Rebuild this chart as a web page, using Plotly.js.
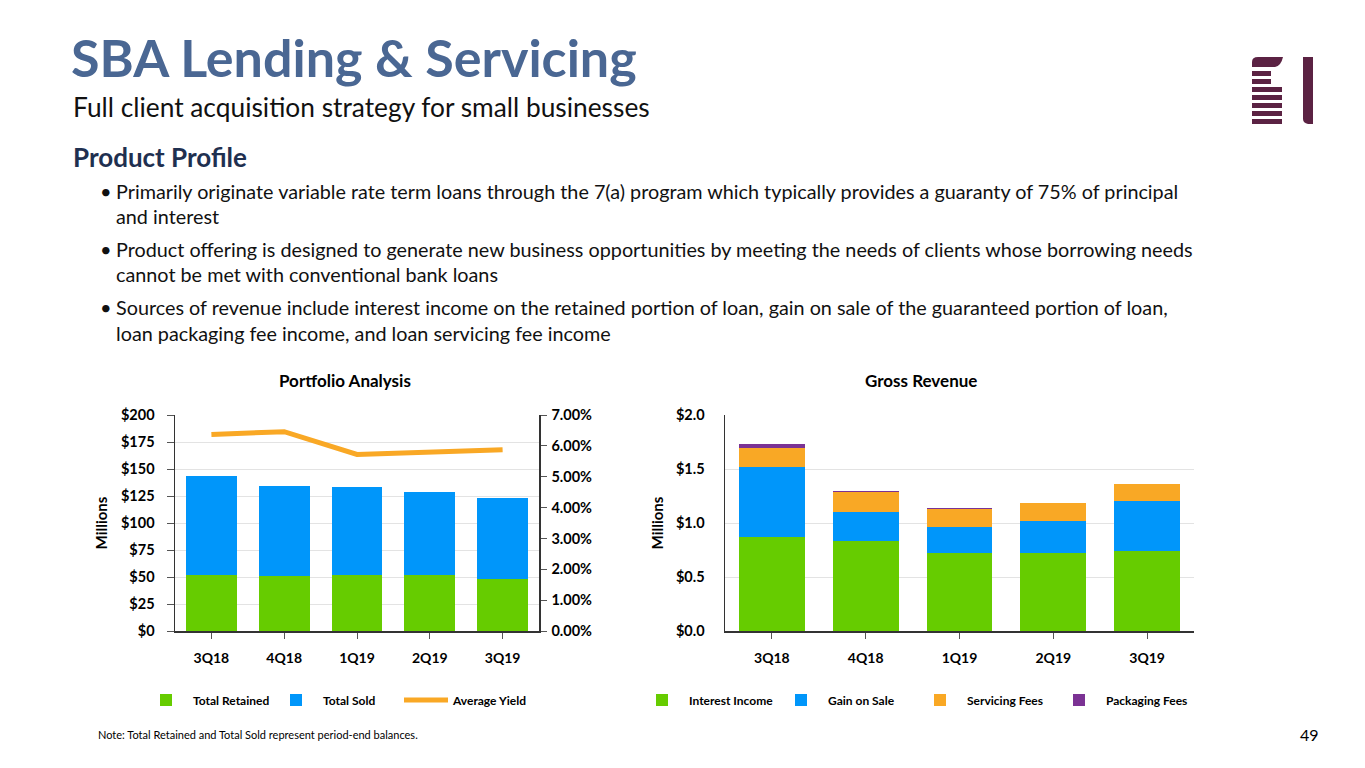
<!DOCTYPE html>
<html><head><meta charset="utf-8">
<script src="https://cdn.plot.ly/plotly-3.0.1.min.js"></script>
<style>html,body{margin:0;padding:0;background:#fff;}#chart{width:1365px;height:768px;}</style>
</head><body><div id="chart"></div>
<script>
// ---- data ----
const quarters = ["3Q18","4Q18","1Q19","2Q19","3Q19"];
const totalRetained = [52, 50.5, 52, 52, 48];
const totalSold = [91.5, 84, 81.5, 76.5, 75.5];
const averageYield = [6.37, 6.46, 5.72, 5.79, 5.87];
const interestIncome = [0.875, 0.835, 0.722, 0.722, 0.744];
const gainOnSale = [0.64, 0.27, 0.242, 0.295, 0.459];
const servicingFees = [0.18, 0.18, 0.165, 0.164, 0.155];
const packagingFees = [0.04, 0.012, 0.006, 0.006, 0.0];
const bullets = [
  ["Primarily originate variable rate term loans through the 7(a) program which typically provides a guaranty of 75% of principal", "and interest"],
  ["Product offering is designed to generate new business opportunities by meeting the needs of clients whose borrowing needs", "cannot be met with conventional bank loans"],
  ["Sources of revenue include interest income on the retained portion of loan, gain on sale of the guaranteed portion of loan,", "loan packaging fee income, and loan servicing fee income"]
];

const W = 1365, H = 768;
const px = x => x / W;
const py = y => 1 - y / H;
const FONT = "Lato";
const GREEN = "#66CC00", BLUE = "#0096FA", ORANGE = "#F9A825", PURPLE = "#7B3294";

const traces = [
  {type:"bar", x:quarters, y:totalRetained, name:"Total Retained", marker:{color:GREEN}, xaxis:"x", yaxis:"y", legend:"legend"},
  {type:"bar", x:quarters, y:totalSold, name:"Total Sold", marker:{color:BLUE}, xaxis:"x", yaxis:"y", legend:"legend"},
  {type:"scatter", mode:"lines", x:quarters, y:averageYield, name:"Average Yield", line:{color:ORANGE, width:5}, xaxis:"x", yaxis:"y2", legend:"legend"},
  {type:"bar", x:quarters, y:interestIncome, name:"Interest Income", marker:{color:GREEN}, xaxis:"x3", yaxis:"y3", legend:"legend2"},
  {type:"bar", x:quarters, y:gainOnSale, name:"Gain on Sale", marker:{color:BLUE}, xaxis:"x3", yaxis:"y3", legend:"legend2"},
  {type:"bar", x:quarters, y:servicingFees, name:"Servicing Fees", marker:{color:ORANGE}, xaxis:"x3", yaxis:"y3", legend:"legend2"},
  {type:"bar", x:quarters, y:packagingFees, name:"Packaging Fees", marker:{color:PURPLE}, xaxis:"x3", yaxis:"y3", legend:"legend2"}
];

const tickFont = {family:FONT, size:14.5, color:"#000", weight:"bold"};
const xTickFont = {family:FONT, size:14, color:"#000", weight:"bold"};
const yDom = [py(631), py(415)];
const titleFont = {family:FONT, size:15, color:"#000", weight:"bold"};

const annotations = [
  {text:"SBA Lending &amp; Servicing", x:px(69), y:py(57), xanchor:"left", yanchor:"middle", font:{family:FONT, size:52, color:"#4A6793", weight:"bold"}},
  {text:"Full client acquisition strategy for small businesses", x:px(71), y:py(107), xanchor:"left", yanchor:"middle", font:{family:FONT, size:26.3, color:"#111"}},
  {text:"Product Profile", x:px(71), y:py(157), xanchor:"left", yanchor:"middle", font:{family:FONT, size:26, color:"#1F3050", weight:"bold"}},
  {text:"Portfolio Analysis", x:px(345), y:py(380), xanchor:"center", yanchor:"middle", font:{family:FONT, size:17, color:"#000", weight:"bold"}},
  {text:"Gross Revenue", x:px(921), y:py(380), xanchor:"center", yanchor:"middle", font:{family:FONT, size:17, color:"#000", weight:"bold"}},
  {text:"Note: Total Retained and Total Sold represent period-end balances.", x:px(96), y:py(734), xanchor:"left", yanchor:"middle", font:{family:FONT, size:11, color:"#000"}},
  {text:"49", x:px(1321), y:py(734), xanchor:"right", yanchor:"middle", font:{family:FONT, size:16, color:"#000"}}
];
const bulletY = [[191,216],[249,274],[307,333]];
bullets.forEach((b,i)=>{
  annotations.push({text:"•", x:px(106), y:py(bulletY[i][0]), xanchor:"center", yanchor:"middle", font:{family:FONT, size:20, color:"#111"}});
  b.forEach((line,j)=>{
    annotations.push({text:line, x:px(114), y:py(bulletY[i][j]), xanchor:"left", yanchor:"middle", font:{family:FONT, size:19.8, color:"#111"}});
  });
});

// logo shapes
const LOGO = "#5B2243";
const shapes = [];
shapes.push({type:"path", xref:"paper", yref:"paper", path:`M ${px(1252)} ${py(67)} L ${px(1252)} ${py(62)} Q ${px(1252)} ${py(57)} ${px(1258)} ${py(57)} L ${px(1283)} ${py(57)} Q ${px(1281)} ${py(66)} ${px(1275)} ${py(67)} Z`, fillcolor:LOGO, line:{width:0}});
[[71,1271],[79,1271],[87,1282],[95,1282],[103,1282],[111,1282],[119,1282]].forEach(([y,xr])=>{
  shapes.push({type:"rect", xref:"paper", yref:"paper", x0:px(1252), x1:px(xr), y0:py(y+5), y1:py(y), fillcolor:LOGO, line:{width:0}});
});
shapes.push({type:"path", xref:"paper", yref:"paper", path:`M ${px(1303)} ${py(57)} L ${px(1313)} ${py(57)} L ${px(1313)} ${py(124)} L ${px(1308)} ${py(124)} Q ${px(1303)} ${py(123)} ${px(1303)} ${py(119)} Z`, fillcolor:LOGO, line:{width:0}});

const legendFont = {family:FONT, size:12, color:"#000", weight:"bold"};

const layout = {
  width:W, height:H, margin:{l:0,r:0,t:0,b:0}, paper_bgcolor:"#fff", plot_bgcolor:"#fff",
  barmode:"stack", showlegend:true, bargap:0.3,
  font:{family:FONT, color:"#000"},
  xaxis:{domain:[px(175), px(539)], anchor:"y", showgrid:false, showline:true, linecolor:"#333", linewidth:1.5,
         ticks:"outside", ticklen:6, tickcolor:"#555", tickfont:xTickFont, ticklabelstandoff:8, fixedrange:true},
  yaxis:{domain:yDom, range:[0,200], dtick:25, tickprefix:"$", showgrid:true, gridcolor:"#E3E3E3", zeroline:false,
         showline:true, linecolor:"#333", linewidth:1.5, ticks:"outside", ticklen:7, tickcolor:"#555", tickfont:tickFont,
         ticklabelstandoff:9, title:{text:"Millions", font:titleFont, standoff:9}},
  yaxis2:{overlaying:"y", side:"right", anchor:"x", range:[0,7], dtick:1, tickformat:".2f", ticksuffix:"%", showgrid:false, zeroline:false,
         showline:true, linecolor:"#333", linewidth:1.5, ticks:"outside", ticklen:6, tickcolor:"#555", tickfont:tickFont, ticklabelstandoff:2},
  xaxis3:{domain:[px(725), px(1194)], anchor:"y3", showgrid:false, showline:true, linecolor:"#333", linewidth:1.5,
         ticks:"outside", ticklen:6, tickcolor:"#555", tickfont:xTickFont, ticklabelstandoff:8},
  yaxis3:{domain:yDom, anchor:"x3", range:[0,2], dtick:0.5, tickprefix:"$", tickformat:".1f", showgrid:true, gridcolor:"#E3E3E3", zeroline:false,
         showline:true, linecolor:"#333", linewidth:1.5, ticks:"", tickfont:tickFont, ticklabelstandoff:16,
         title:{text:"Millions", font:titleFont, standoff:8}},
  legend:{orientation:"h", x:px(139), y:py(700), xanchor:"left", yanchor:"middle", font:legendFont,
          entrywidth:71, entrywidthmode:"pixels", itemwidth:44, traceorder:"normal"},
  legend2:{orientation:"h", x:px(635), y:py(700), xanchor:"left", yanchor:"middle", font:legendFont,
          entrywidth:80, entrywidthmode:"pixels", itemwidth:44, traceorder:"normal"},
  annotations: annotations.map(a=>Object.assign({xref:"paper", yref:"paper", showarrow:false}, a)),
  shapes: shapes
};

Plotly.newPlot("chart", traces, layout, {staticPlot:true, displayModeBar:false});
</script></body></html>
